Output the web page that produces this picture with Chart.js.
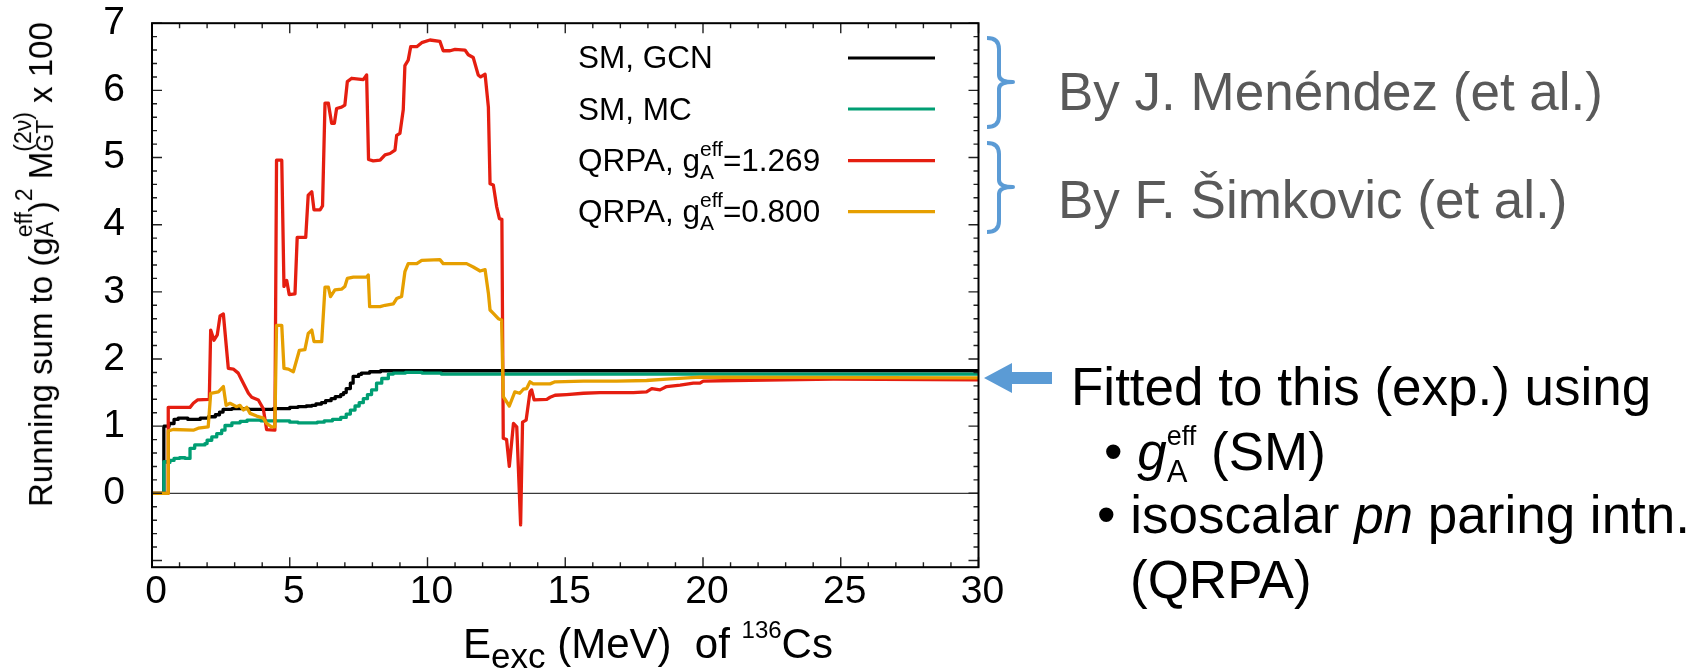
<!DOCTYPE html>
<html>
<head>
<meta charset="utf-8">
<script src="https://cdn.jsdelivr.net/npm/chart.js@4.4.1/dist/chart.umd.min.js"></script>
<style>
  html, body { margin:0; padding:0; background:#fff; }
  #wrap { position:relative; width:1704px; height:672px; overflow:hidden; font-family:"Liberation Sans", Arial, sans-serif; }
  #chartBox { position:absolute; left:0; top:0; width:1704px; height:672px; }
  .t { position:absolute; white-space:nowrap; color:#000; }
  .s { position:relative; line-height:0; }
  .stk { display:inline-flex; flex-direction:column; vertical-align:baseline; line-height:0; }
  .stk > span { position:relative; }
  svg { position:absolute; left:0; top:0; }
</style>
</head>
<body>
<div id="wrap">
  <div id="chartBox"><canvas id="c"></canvas></div>

  <!-- y axis title (rotated) -->
  <div class="t" style="left:52px; top:479.07px; font-size:33px; line-height:33px; transform-origin:0 27.93px; transform:rotate(-90deg);">Running sum to (g<span class="stk" style="font-size:23px;"><span style="top:-20px;">eff</span><span style="top:1px;">A</span></span>)<span class="s" style="font-size:23px; top:-20px;">2</span> M<span class="stk" style="font-size:23px;"><span style="top:-21px;">(2ν)</span><span style="top:1px;">GT</span></span> x 100</div>

  <!-- x axis title -->
  <div class="t" style="left:463px; top:622.7px; font-size:42px; line-height:42px;">E<span class="s" style="font-size:35px; top:10px;">exc</span> (MeV)&nbsp; of <span class="s" style="font-size:24px; top:-20px;">136</span>Cs</div>

  <!-- legend texts -->
  <div class="t" style="left:578px; top:41.6px; font-size:31.5px; line-height:31.5px;">SM, GCN</div>
  <div class="t" style="left:578px; top:93.6px; font-size:31.5px; line-height:31.5px;">SM, MC</div>
  <div class="t" style="left:578px; top:145.3px; font-size:31.5px; line-height:31.5px;">QRPA, g<span class="stk" style="font-size:21px;"><span style="top:-15px;">eff</span><span style="top:8px;">A</span></span>=1.269</div>
  <div class="t" style="left:578px; top:196.3px; font-size:31.5px; line-height:31.5px;">QRPA, g<span class="stk" style="font-size:21px;"><span style="top:-15px;">eff</span><span style="top:8px;">A</span></span>=0.800</div>

  <!-- annotations -->
  <svg width="1704" height="672">
    <path d="M987,38 Q999,38 999,49 L999,75 Q999,82 1013,82 Q999,82 999,89 L999,116 Q999,127 987,127" fill="none" stroke="#5b9bd5" stroke-width="4" stroke-linejoin="round"/>
    <path d="M987,143 Q999,143 999,154 L999,180 Q999,187 1013,187 Q999,187 999,194 L999,221 Q999,232 987,232" fill="none" stroke="#5b9bd5" stroke-width="4" stroke-linejoin="round"/>
    <polygon points="984,378 1012,363 1012,372 1052,372 1052,384 1012,384 1012,393" fill="#5b9bd5"/>
  </svg>
  <div class="t" style="left:1058px; top:65.1px; font-size:53px; line-height:53px; color:#595959;">By J. Menéndez (et al.)</div>
  <div class="t" style="left:1058px; top:173.1px; font-size:53px; line-height:53px; color:#595959;">By F. Šimkovic (et al.)</div>
  <div class="t" style="left:1071px; top:360.1px; font-size:53px; line-height:53px;">Fitted to this (exp.) using</div>
  <div class="t" style="left:1104px; top:425.1px; font-size:53px; line-height:53px;">• <i>g</i><span class="stk" style="font-size:27px;"><span style="top:-25px;">eff</span><span style="top:11px; font-size:31px;">A</span></span> (SM)</div>
  <div class="t" style="left:1097px; top:488.1px; font-size:53px; line-height:53px;">• isoscalar <i>pn</i> paring intn.</div>
  <div class="t" style="left:1130px; top:553.1px; font-size:53px; line-height:53px;">(QRPA)</div>
</div>

<script>
// ---------------- data ----------------
const seriesLabels = ['SM, GCN', 'SM, MC', 'QRPA, gA_eff=1.269', 'QRPA, gA_eff=0.800'];
const xTickValues = [0, 5, 10, 15, 20, 25, 30];
const yTickValues = [0, 1, 2, 3, 4, 5, 6, 7];

// SM, GCN (running sum, step-wise)
const smGcnE   = [0, 0.43, 0.62, 0.80, 0.95, 1.30, 1.75, 2.05, 2.30, 2.45, 2.58, 2.90, 3.50, 4.40, 5.00, 5.30, 5.60, 5.80, 5.95, 6.15, 6.30, 6.50, 6.65, 6.85, 6.95, 7.05, 7.20, 7.30, 7.50, 7.60, 7.90, 8.30, 30];
const smGcnSum = [0, 1.00, 1.04, 1.10, 1.12, 1.10, 1.12, 1.14, 1.17, 1.21, 1.25, 1.26, 1.25, 1.26, 1.28, 1.29, 1.30, 1.31, 1.33, 1.35, 1.38, 1.41, 1.44, 1.47, 1.50, 1.56, 1.64, 1.74, 1.77, 1.79, 1.81, 1.825, 1.825];

// SM, MC (running sum, step-wise)
const smMcE   = [0, 0.43, 0.55, 0.65, 0.80, 1.00, 1.20, 1.38, 1.55, 1.92, 2.00, 2.17, 2.35, 2.53, 2.65, 2.90, 3.20, 3.45, 3.95, 4.50, 5.00, 5.30, 6.00, 6.25, 6.55, 6.85, 7.05, 7.20, 7.37, 7.52, 7.67, 7.82, 7.97, 8.15, 8.34, 8.58, 8.76, 9.20, 9.80, 10.50, 30];
const smMcSum = [0, 0.47, 0.46, 0.49, 0.52, 0.53, 0.52, 0.67, 0.72, 0.74, 0.79, 0.84, 0.89, 0.94, 1.01, 1.05, 1.07, 1.09, 1.08, 1.08, 1.06, 1.05, 1.06, 1.08, 1.10, 1.13, 1.18, 1.24, 1.30, 1.35, 1.41, 1.47, 1.54, 1.64, 1.71, 1.775, 1.79, 1.80, 1.79, 1.775, 1.775];

// QRPA, gA_eff = 1.269
const qrpa1269E   = [0, 0.59, 0.59, 1.38, 1.50, 1.65, 2.08, 2.13, 2.25, 2.37, 2.47, 2.59, 2.77, 2.95, 3.13, 3.25, 3.50, 3.62, 3.86, 4.04, 4.16, 4.46, 4.52, 4.71, 4.79, 4.89, 4.98, 5.19, 5.27, 5.58, 5.67, 5.80, 5.88, 6.10, 6.19, 6.28, 6.40, 6.52, 6.62, 6.70, 6.88, 7.00, 7.09, 7.25, 7.67, 7.79, 7.86, 8.03, 8.28, 8.46, 8.64, 8.82, 8.88, 9.00, 9.12, 9.18, 9.30, 9.39, 9.61, 9.79, 10.09, 10.45, 10.57, 10.82, 11.00, 11.36, 11.48, 11.66, 11.84, 11.93, 12.09, 12.21, 12.27, 12.39, 12.51, 12.61, 12.70, 12.75, 12.87, 12.97, 13.12, 13.24, 13.38, 13.45, 13.58, 13.72, 13.78, 13.87, 14.33, 14.45, 14.63, 15.05, 15.66, 16.26, 17.47, 17.95, 18.14, 18.44, 18.68, 19.17, 19.65, 19.89, 20.01, 21.10, 24.73, 30];
const qrpa1269Sum = [0, 0, 1.28, 1.28, 1.34, 1.39, 1.40, 2.43, 2.28, 2.36, 2.64, 2.67, 1.86, 1.85, 1.79, 1.69, 1.49, 1.43, 1.39, 1.26, 0.95, 0.94, 4.96, 4.96, 3.08, 3.17, 2.96, 2.97, 3.81, 3.81, 4.44, 4.49, 4.22, 4.22, 4.28, 5.81, 5.81, 5.51, 5.51, 5.73, 5.75, 5.78, 6.13, 6.18, 6.16, 6.23, 4.97, 4.95, 4.96, 5.04, 5.06, 5.11, 5.33, 5.36, 5.71, 6.37, 6.45, 6.65, 6.65, 6.71, 6.75, 6.73, 6.59, 6.59, 6.61, 6.60, 6.53, 6.49, 6.23, 6.20, 6.24, 5.75, 4.61, 4.59, 4.27, 4.09, 4.08, 0.82, 0.80, 0.40, 1.04, 0.99, -0.47, 1.06, 1.09, 1.51, 1.54, 1.39, 1.40, 1.43, 1.46, 1.47, 1.49, 1.50, 1.50, 1.51, 1.56, 1.54, 1.59, 1.61, 1.64, 1.64, 1.67, 1.68, 1.70, 1.69];

// QRPA, gA_eff = 0.800
const qrpa0800E   = [0, 0.59, 0.59, 0.77, 1.50, 1.68, 2.04, 2.13, 2.41, 2.59, 2.69, 2.83, 3.07, 3.19, 3.32, 3.44, 3.56, 3.80, 4.04, 4.16, 4.34, 4.46, 4.52, 4.71, 4.79, 4.95, 5.13, 5.35, 5.55, 5.67, 5.80, 5.88, 6.16, 6.28, 6.40, 6.48, 6.64, 6.88, 7.00, 7.09, 7.31, 7.79, 7.85, 7.90, 8.28, 8.46, 8.76, 8.88, 9.06, 9.18, 9.30, 9.61, 9.79, 10.45, 10.57, 11.18, 11.42, 11.66, 11.91, 12.09, 12.21, 12.27, 12.39, 12.57, 12.69, 12.75, 12.97, 13.17, 13.35, 13.48, 13.60, 13.72, 13.84, 14.45, 14.63, 15.66, 16.87, 17.95, 18.68, 19.89, 30];
const qrpa0800Sum = [0, 0, 0.93, 0.95, 0.94, 0.97, 0.99, 1.49, 1.51, 1.59, 1.31, 1.34, 1.29, 1.31, 1.24, 1.28, 1.19, 1.15, 1.12, 1.04, 0.99, 0.99, 2.50, 2.50, 1.86, 1.85, 1.81, 2.13, 2.14, 2.38, 2.43, 2.26, 2.26, 3.07, 3.07, 2.93, 3.03, 3.04, 3.08, 3.20, 3.22, 3.22, 3.25, 2.78, 2.78, 2.80, 2.82, 2.90, 2.93, 3.30, 3.42, 3.42, 3.47, 3.48, 3.42, 3.42, 3.42, 3.37, 3.31, 3.33, 2.98, 2.73, 2.68, 2.60, 2.58, 1.44, 1.30, 1.51, 1.49, 1.55, 1.56, 1.66, 1.63, 1.63, 1.66, 1.67, 1.67, 1.68, 1.70, 1.73, 1.72];

const seriesColors = ['#000000', '#009e73', '#e51e10', '#e69f00'];

// ---------------- chart ----------------
const pts = (E, S) => E.map((x, i) => ({ x: x, y: S[i] }));
const X_MIN = 0, X_MAX = 30, Y_MIN = -1.1, Y_MAX = 7;
const X_MINOR = 1, X_MAJOR_EVERY = 5, Y_MINOR = 0.2, Y_MAJOR_EVERY = 5;

Chart.defaults.font.family = '"Liberation Sans", Arial, sans-serif';
Chart.defaults.color = '#000';

const framePlugin = {
  id: 'frame',
  beforeDatasetsDraw(chart) {
    const { ctx, chartArea: a, scales } = chart;
    const y0 = scales.y.getPixelForValue(0);
    ctx.save();
    ctx.strokeStyle = '#3a3a3a';
    ctx.lineWidth = 1.3;
    ctx.beginPath();
    ctx.moveTo(a.left, y0);
    ctx.lineTo(a.right, y0);
    ctx.stroke();
    ctx.restore();
  },
  afterDatasetsDraw(chart) {
    const { ctx, chartArea: a, scales } = chart;
    ctx.save();
    ctx.strokeStyle = '#222';
    ctx.lineWidth = 1.4;
    ctx.beginPath();
    for (let k = Math.ceil(X_MIN / X_MINOR); k <= Math.floor(X_MAX / X_MINOR); k++) {
      const px = scales.x.getPixelForValue(k * X_MINOR);
      const len = (k % X_MAJOR_EVERY === 0) ? 10 : 5;
      ctx.moveTo(px, a.bottom); ctx.lineTo(px, a.bottom - len);
      ctx.moveTo(px, a.top); ctx.lineTo(px, a.top + len);
    }
    for (let k = Math.ceil(Y_MIN / Y_MINOR - 1e-9); k <= Math.floor(Y_MAX / Y_MINOR + 1e-9); k++) {
      const py = scales.y.getPixelForValue(k * Y_MINOR);
      const len = (k % Y_MAJOR_EVERY === 0) ? 10 : 5;
      ctx.moveTo(a.left, py); ctx.lineTo(a.left + len, py);
      ctx.moveTo(a.right, py); ctx.lineTo(a.right - len, py);
    }
    ctx.stroke();
    ctx.strokeStyle = '#000';
    ctx.lineWidth = 2;
    ctx.strokeRect(a.left, a.top, a.right - a.left, a.bottom - a.top);
    const rows = [58, 109, 160.7, 211.7];
    chart.data.datasets.forEach((ds, i) => {
      ctx.strokeStyle = ds.borderColor;
      ctx.lineWidth = 3.2;
      ctx.beginPath();
      ctx.moveTo(848, rows[i]);
      ctx.lineTo(935, rows[i]);
      ctx.stroke();
    });
    ctx.restore();
  }
};

const dsBase = { pointRadius: 0, borderWidth: 3.3, fill: false, tension: 0, borderJoinStyle: 'round', borderCapStyle: 'butt' };

new Chart(document.getElementById('c'), {
  type: 'line',
  data: {
    datasets: [
      Object.assign({}, dsBase, { label: seriesLabels[0], data: pts(smGcnE, smGcnSum), borderColor: seriesColors[0], stepped: 'before', order: 3 }),
      Object.assign({}, dsBase, { label: seriesLabels[1], data: pts(smMcE, smMcSum), borderColor: seriesColors[1], stepped: 'before', order: 2 }),
      Object.assign({}, dsBase, { label: seriesLabels[2], data: pts(qrpa1269E, qrpa1269Sum), borderColor: seriesColors[2], order: 1 }),
      Object.assign({}, dsBase, { label: seriesLabels[3], data: pts(qrpa0800E, qrpa0800Sum), borderColor: seriesColors[3], order: 0 })
    ]
  },
  options: {
    responsive: true,
    maintainAspectRatio: false,
    animation: false,
    events: [],
    layout: { padding: { left: 0, top: 23.2, right: 725.5, bottom: 0 } },
    plugins: { legend: { display: false }, tooltip: { enabled: false }, title: { display: false } },
    scales: {
      x: {
        type: 'linear', min: X_MIN, max: X_MAX,
        afterBuildTicks: (s) => { s.ticks = xTickValues.map(v => ({ value: v })); },
        afterFit: (s) => { s.height = 104.8; s.paddingLeft = 0; s.paddingRight = 0; },
        grid: { display: false, drawTicks: false },
        border: { display: false },
        ticks: { padding: 6, labelOffset: 4, font: { size: 39, lineHeight: 1 }, color: '#000', maxRotation: 0, autoSkip: false }
      },
      y: {
        type: 'linear', min: Y_MIN, max: Y_MAX,
        afterBuildTicks: (s) => { s.ticks = yTickValues.map(v => ({ value: v })); },
        afterFit: (s) => { s.width = 152; s.paddingTop = 0; s.paddingBottom = 0; },
        grid: { display: false, drawTicks: false },
        border: { display: false },
        ticks: { padding: 27, font: { size: 39, lineHeight: 1 }, color: '#000', autoSkip: false }
      }
    }
  },
  plugins: [framePlugin]
});
</script>
</body>
</html>
